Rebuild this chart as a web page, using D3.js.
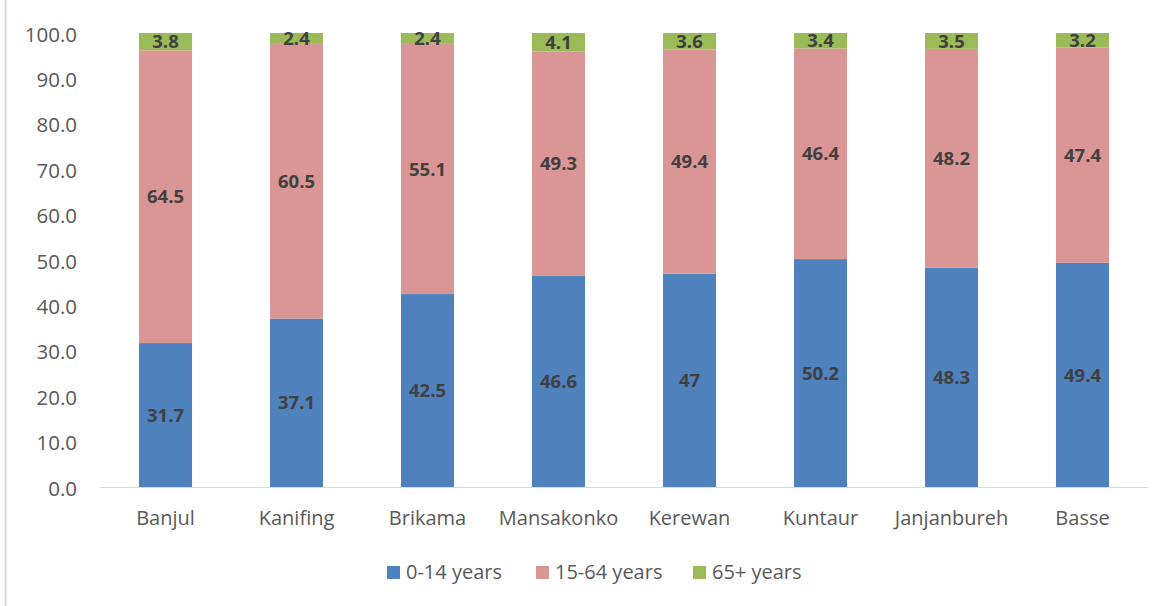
<!DOCTYPE html>
<html><head><meta charset="utf-8">
<script src="https://cdn.jsdelivr.net/npm/d3@7"></script>
<style>body{margin:0;background:#fff}svg{display:block}text{font-family:"Open Sans",sans-serif}</style>
</head><body>
<svg id="c" width="1173" height="606"></svg>
<script>
const categories = ["Banjul","Kanifing","Brikama","Mansakonko","Kerewan","Kuntaur","Janjanbureh","Basse"];
const age0_14 = [31.7,37.1,42.5,46.6,47,50.2,48.3,49.4];
const age15_64 = [64.5,60.5,55.1,49.3,49.4,46.4,48.2,47.4];
const age65 = [3.8,2.4,2.4,4.1,3.6,3.4,3.5,3.2];
const seriesNames = ["0-14 years","15-64 years","65+ years"];
const yTicks = [0,10,20,30,40,50,60,70,80,90,100];
const colors = ["#4f81bd","#da9694","#9bbb59"];
const FONT = "'Open Sans',sans-serif";

const svg = d3.select("#c");
svg.append("line").attr("x1",5.5).attr("x2",5.5).attr("y1",0).attr("y2",606).attr("stroke","#d9d9d9").attr("stroke-width",2);

const x = d3.scaleBand().domain(categories).range([100,1148]).paddingInner(0.595).paddingOuter(0.2975);
const y = d3.scaleLinear().domain([0,100]).range([487,33]);

const series = [age0_14, age15_64, age65];
const rows = categories.map((c,i)=>({cat:c, s0:age0_14[i], s1:age15_64[i], s2:age65[i]}));
const stack = d3.stack().keys(["s0","s1","s2"])(rows);

stack.forEach((layer,k)=>{
  const g = svg.append("g");
  g.selectAll("rect").data(layer).join("rect")
    .attr("x",d=>x(d.data.cat)).attr("width",x.bandwidth())
    .attr("y",d=>y(d[1])).attr("height",d=>y(d[0])-y(d[1]))
    .attr("fill",colors[k]);
  g.selectAll("text").data(layer).join("text")
    .attr("x",d=>x(d.data.cat)+x.bandwidth()/2)
    .attr("y",d=>(y(d[0])+y(d[1]))/2)
    .attr("dy","0.36em").attr("text-anchor","middle")
    .attr("font-size",18.5).attr("font-weight","bold").attr("fill","#404040")
    .text((d,i)=>String(series[k][i]));
});

svg.append("line").attr("x1",100).attr("x2",1148).attr("y1",487.5).attr("y2",487.5).attr("stroke","#d9d9d9").attr("stroke-width",1);

const yAxis = svg.append("g").attr("transform","translate(77,1.5)")
  .call(d3.axisLeft(y).tickValues(yTicks).tickFormat(d3.format(".1f")).tickSize(0).tickPadding(0));
yAxis.select(".domain").remove();
yAxis.selectAll("text").attr("font-size",20.5).attr("fill","#595959").attr("font-family",FONT);

const xAxis = svg.append("g").attr("transform","translate(0,487)")
  .call(d3.axisBottom(x).tickSize(0).tickPadding(24));
xAxis.select(".domain").remove();
xAxis.selectAll("text").attr("font-size",20).attr("fill","#595959").attr("font-family",FONT);

const legX = [387,536,693];
const leg = svg.append("g");
seriesNames.forEach((n,i)=>{
  leg.append("rect").attr("x",legX[i]).attr("y",566).attr("width",13).attr("height",13).attr("fill",colors[i]);
  leg.append("text").attr("x",legX[i]+19).attr("y",572).attr("dy","0.36em")
    .attr("font-size",20).attr("fill","#595959").text(n);
});
</script>
</body></html>
